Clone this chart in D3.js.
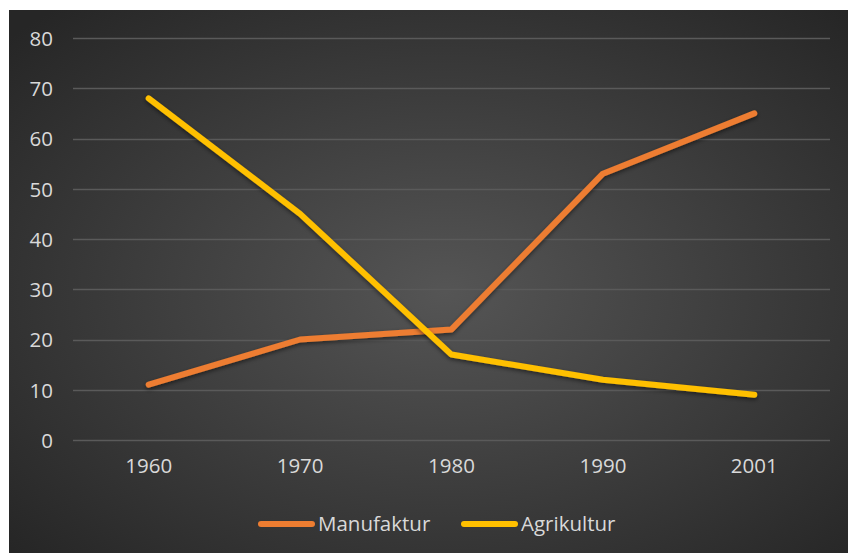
<!DOCTYPE html>
<html><head><meta charset="utf-8">
<script src="https://cdn.jsdelivr.net/npm/d3@7"></script>
<style>body{margin:0;background:#fff}svg{display:block}</style>
</head><body>
<script>
const categories = ["1960","1970","1980","1990","2001"];
const manufaktur = [11,20,22,53,65];
const agrikultur = [68,45,17,12,9];
const yTicks = [0,10,20,30,40,50,60,70,80];
const seriesNames = ["Manufaktur","Agrikultur"];
const colors = ["#ED7D31","#FFC000"];

const W=848,H=553;
const svg=d3.select("body").append("svg").attr("width",W).attr("height",H);
const defs=svg.append("defs");
const rg=defs.append("radialGradient").attr("id","bg").attr("cx","52%").attr("cy","52%").attr("r","70%");
rg.append("stop").attr("offset","0%").attr("stop-color","#555555");
rg.append("stop").attr("offset","100%").attr("stop-color","#262626");
const f=defs.append("filter").attr("id","sh").attr("x","-10%").attr("y","-10%").attr("width","120%").attr("height","130%");
f.append("feDropShadow").attr("dx",0).attr("dy",2).attr("stdDeviation",2).attr("flood-color","#000").attr("flood-opacity",0.5);

svg.append("rect").attr("x",9).attr("y",10).attr("width",W-9).attr("height",H-10).attr("fill","url(#bg)");

const x=d3.scaleBand().domain(categories).range([73,830]);
const y=d3.scaleLinear().domain([0,80]).range([440,38]);
const font="'Open Sans', sans-serif";
const fs="20.5px";

const g=svg.append("g");
g.selectAll("line.grid").data(yTicks).join("line").attr("class","grid")
 .attr("x1",73).attr("x2",830).attr("y1",d=>Math.round(y(d))+0.5).attr("y2",d=>Math.round(y(d))+0.5)
 .attr("stroke","#5a5a5a").attr("stroke-width",1.3);

const yAxis=d3.axisLeft(y).tickValues(yTicks).tickSize(0).tickPadding(0);
const ya=svg.append("g").attr("transform","translate(53,0)").call(yAxis);
ya.select(".domain").remove();
ya.selectAll("text").attr("fill","#d9d9d9").style("font-family",font).style("font-size",fs).attr("dy","0.36em");

const xAxis=d3.axisBottom(x).tickSize(0).tickPadding(0);
const xa=svg.append("g").attr("transform","translate(0,459)").call(xAxis);
xa.select(".domain").remove();
xa.selectAll("text").attr("fill","#d9d9d9").style("font-family",font).style("font-size",fs).attr("dy","0.68em");

const line=d3.line().x((d,i)=>x(categories[i])+x.bandwidth()/2).y(d=>y(d));
[manufaktur,agrikultur].forEach((s,k)=>{
  svg.append("path").datum(s).attr("d",line).attr("fill","none")
   .attr("stroke",colors[k]).attr("stroke-width",6).attr("stroke-linecap","round").attr("stroke-linejoin","round")
   .attr("filter","url(#sh)");
});

const legX=[258,461];
seriesNames.forEach((n,k)=>{
  svg.append("line").attr("x1",legX[k]+3).attr("x2",legX[k]+54).attr("y1",524).attr("y2",524)
   .attr("stroke",colors[k]).attr("stroke-width",6).attr("stroke-linecap","round");
  svg.append("text").attr("x",legX[k]+60).attr("y",524).attr("dy","0.36em").text(n)
   .attr("fill","#d9d9d9").style("font-family",font).style("font-size",fs);
});
</script>
</body></html>
